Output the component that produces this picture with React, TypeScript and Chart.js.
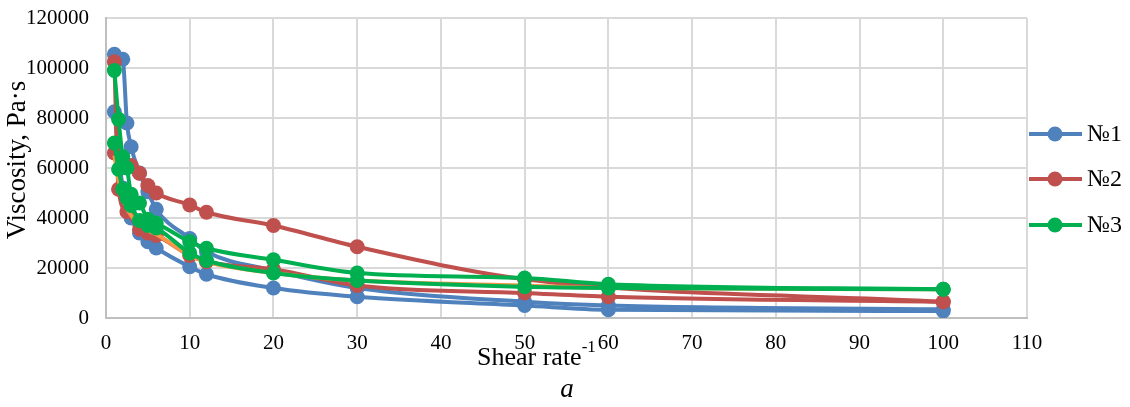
import React, { useEffect, useRef } from "react";
import { Chart, registerables } from "chart.js";

Chart.register(...registerables);

// Shear rate (x) and viscosity (y) for each curve
const rateBlueA = [1, 2, 2.5, 3, 4, 5, 6, 10, 12, 20, 30, 50, 60, 100];
const viscBlueA = [105500, 103500, 78000, 68500, 58000, 50500, 43500, 31800, 26500, 19000, 12000, 6500, 5000, 3500];
const rateBlueB = [1, 2, 3, 4, 5, 6, 10, 12, 20, 30, 50, 60, 100];
const viscBlueB = [82500, 52000, 40000, 34000, 30500, 28000, 20500, 17500, 12000, 8500, 5000, 3300, 2800];

const rateRedA = [1, 1.5, 2.5, 4, 5, 6, 10, 12, 20, 30, 50, 60, 100];
const viscRedA = [102500, 51500, 42500, 35500, 34000, 33000, 25000, 22500, 19500, 13000, 10000, 8500, 6500];
const rateRedB = [1, 2, 3, 4, 5, 6, 10, 12, 20, 30, 50, 100];
const viscRedB = [66000, 63000, 61000, 57900, 53000, 50000, 45200, 42300, 37000, 28500, 15500, 6500];

const rateGreenA = [1, 1.5, 2, 2.5, 3, 4, 5, 6, 10, 12, 20, 30, 50, 60, 100];
const viscGreenA = [99000, 79500, 64500, 60000, 49500, 46000, 39500, 38000, 30500, 27900, 23300, 18000, 16000, 13500, 11500];
const rateGreenB = [1, 1.5, 2, 2.5, 3, 4, 5, 6, 10, 12, 20, 30, 50, 60, 100];
const viscGreenB = [70000, 59500, 51500, 48000, 45000, 39000, 37000, 36000, 26000, 23000, 18000, 15000, 12500, 12000, 11500];

const rateOrange = [1, 1.5, 2, 2.5, 3, 4, 5, 6, 10, 12, 20, 30, 50, 60, 100];
const viscOrange = [65000, 55000, 50000, 44000, 41000, 37500, 35000, 33500, 25000, 22500, 18000, 15000, 13000, 12000, 11500];

const legendLabels = ["№1", "№2", "№3"];
const BLUE = "#4F81BD";
const RED = "#C0504D";
const GREEN = "#00B050";
const ORANGE = "#F79646";
const legendColors = [BLUE, RED, GREEN];

const FONT = "'Liberation Serif', 'Times New Roman', serif";

function pts(xs: number[], ys: number[]) {
  return xs.map((x, i) => ({ x, y: ys[i] }));
}

function ds(label: string, xs: number[], ys: number[], color: string, order: number, marker = true) {
  return {
    label,
    data: pts(xs, ys),
    borderColor: color,
    backgroundColor: color,
    borderWidth: 4,
    pointRadius: marker ? 7.5 : 0,
    pointHoverRadius: marker ? 7.5 : 0,
    pointBorderWidth: 0,
    pointBackgroundColor: color,
    cubicInterpolationMode: "monotone" as const,
    order,
  };
}

const overlayPlugin = {
  id: "overlay",
  afterDraw(chart: any) {
    const ctx = chart.ctx as CanvasRenderingContext2D;
    ctx.save();
    ctx.fillStyle = "#000";
    // Y title
    ctx.save();
    ctx.translate(18, 160);
    ctx.rotate(-Math.PI / 2);
    ctx.font = `27px ${FONT}`;
    ctx.textAlign = "center";
    ctx.textBaseline = "middle";
    ctx.fillText("Viscosity, Pa·s", 0, 0);
    ctx.restore();
    // X title
    ctx.font = `26px ${FONT}`;
    ctx.textAlign = "left";
    ctx.textBaseline = "alphabetic";
    ctx.fillText("Shear rate", 477, 365);
    const w = ctx.measureText("Shear rate").width;
    ctx.font = `17px ${FONT}`;
    ctx.fillText("-1", 477 + w, 352);
    // sub-figure letter
    ctx.font = `italic 27px ${FONT}`;
    ctx.textAlign = "center";
    ctx.textBaseline = "middle";
    ctx.fillText("a", 567, 390);
    // Legend
    const ys = [134, 179, 225];
    legendLabels.forEach((lab, i) => {
      const y = ys[i];
      ctx.strokeStyle = legendColors[i];
      ctx.lineWidth = 4;
      ctx.beginPath();
      ctx.moveTo(1029, y);
      ctx.lineTo(1082, y);
      ctx.stroke();
      ctx.fillStyle = legendColors[i];
      ctx.beginPath();
      ctx.arc(1055, y, 7.5, 0, Math.PI * 2);
      ctx.fill();
      ctx.fillStyle = "#000";
      ctx.font = `24px ${FONT}`;
      ctx.textAlign = "left";
      ctx.textBaseline = "middle";
      ctx.fillText(lab, 1087, y + 1);
    });
    ctx.restore();
  },
};

export default function App() {
  const ref = useRef<HTMLCanvasElement | null>(null);
  useEffect(() => {
    if (!ref.current) return;
    const chart = new Chart(ref.current, {
      type: "line",
      data: {
        datasets: [
          ds("№1", rateBlueA, viscBlueA, BLUE, 7),
          ds("№1b", rateBlueB, viscBlueB, BLUE, 6),
          ds("№2", rateRedA, viscRedA, RED, 5),
          ds("№2b", rateRedB, viscRedB, RED, 4),
          ds("orange", rateOrange, viscOrange, ORANGE, 3, false),
          ds("№3", rateGreenA, viscGreenA, GREEN, 2),
          ds("№3b", rateGreenB, viscGreenB, GREEN, 1),
        ],
      },
      options: {
        animation: false,
        responsive: false,
        events: [],
        layout: { padding: { left: 0, right: 1130 - 1027, top: 18, bottom: 0 } },
        plugins: {
          legend: { display: false },
          tooltip: { enabled: false },
          title: { display: false },
        },
        scales: {
          x: {
            type: "linear",
            min: 0,
            max: 110,
            ticks: {
              stepSize: 10,
              color: "#000",
              font: { family: FONT, size: 21 },
              padding: 13,
              maxRotation: 0,
            },
            grid: { color: "#d9d9d9", lineWidth: 2, drawTicks: false },
            border: { color: "#bfbfbf", width: 2 },
            afterFit: (s: any) => {
              s.height = 407 - 318;
              s.paddingLeft = 0;
              s.paddingRight = 0;
            },
          },
          y: {
            type: "linear",
            min: 0,
            max: 120000,
            ticks: {
              stepSize: 20000,
              color: "#000",
              font: { family: FONT, size: 21 },
              padding: 17,
              callback: (v: any) => String(v),
            },
            grid: { color: "#d9d9d9", lineWidth: 2, drawTicks: false },
            border: { color: "#bfbfbf", width: 2 },
            afterFit: (s: any) => {
              s.width = 106;
              s.paddingTop = 0;
              s.paddingBottom = 0;
            },
          },
        },
      },
      plugins: [overlayPlugin],
    });
    return () => chart.destroy();
  }, []);
  return (
    <div style={{ position: "absolute", left: 0, top: 0, width: 1130, height: 407, background: "#fff" }}>
      <canvas ref={ref} width={1130} height={407} style={{ display: "block" }} />
    </div>
  );
}
